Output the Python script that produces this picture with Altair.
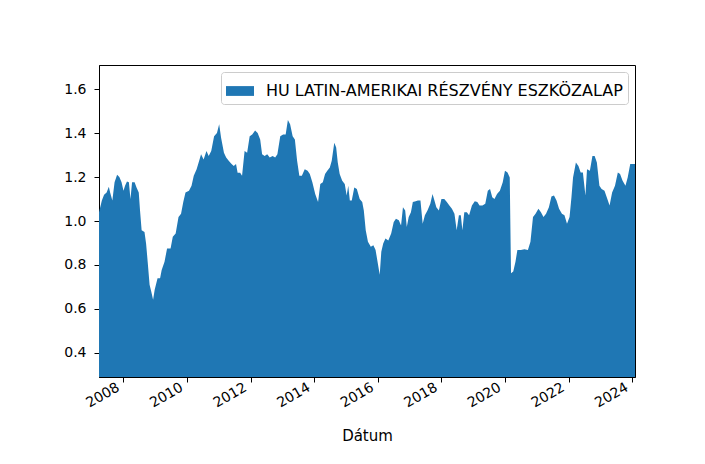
import altair as alt
import numpy as np
import pandas as pd

series_name = "HU LATIN-AMERIKAI RÉSZVÉNY ESZKÖZALAP"

# decimal years
years = [
    2007.23, 2007.32, 2007.39, 2007.47, 2007.54, 2007.58, 2007.65, 2007.72, 2007.80, 2007.87,
    2007.94, 2008.00, 2008.05, 2008.11, 2008.17, 2008.22, 2008.27, 2008.35, 2008.41, 2008.48,
    2008.52, 2008.57, 2008.66, 2008.71, 2008.76, 2008.82, 2008.87, 2008.93, 2008.98, 2009.07,
    2009.15, 2009.20, 2009.29, 2009.37, 2009.48, 2009.55, 2009.64, 2009.73, 2009.81, 2009.88,
    2009.95, 2010.06, 2010.14, 2010.21, 2010.30, 2010.38, 2010.44, 2010.52, 2010.61, 2010.68,
    2010.76, 2010.85, 2010.94, 2011.01, 2011.07, 2011.16, 2011.23, 2011.31, 2011.40, 2011.47,
    2011.54, 2011.59, 2011.67, 2011.73, 2011.81, 2011.89, 2011.97, 2012.05, 2012.14, 2012.22,
    2012.30, 2012.36, 2012.44, 2012.52, 2012.60, 2012.69, 2012.77, 2012.84, 2012.93, 2013.02,
    2013.10, 2013.17, 2013.24, 2013.32, 2013.39, 2013.46, 2013.53, 2013.61, 2013.70, 2013.79,
    2013.86, 2013.94, 2014.03, 2014.12, 2014.19, 2014.27, 2014.34, 2014.41, 2014.49, 2014.55,
    2014.63, 2014.69, 2014.74, 2014.80, 2014.88, 2014.96, 2015.02, 2015.07, 2015.12, 2015.18,
    2015.26, 2015.34, 2015.43, 2015.51, 2015.56, 2015.62, 2015.69, 2015.78, 2015.86, 2015.93,
    2016.00, 2016.06, 2016.11, 2016.17, 2016.24, 2016.33, 2016.42, 2016.50, 2016.57, 2016.66,
    2016.73, 2016.79, 2016.86, 2016.91, 2016.97, 2017.04, 2017.10, 2017.19, 2017.26, 2017.34,
    2017.41, 2017.48, 2017.56, 2017.65, 2017.72, 2017.78, 2017.84, 2017.92, 2018.00, 2018.09,
    2018.17, 2018.25, 2018.33, 2018.41, 2018.48, 2018.55, 2018.61, 2018.66, 2018.72, 2018.80,
    2018.87, 2018.96, 2019.05, 2019.13, 2019.20, 2019.29, 2019.38, 2019.46, 2019.53, 2019.60,
    2019.67, 2019.75, 2019.84, 2019.93, 2020.00, 2020.08, 2020.15, 2020.19, 2020.26, 2020.33,
    2020.39, 2020.50, 2020.61, 2020.72, 2020.80, 2020.88, 2020.96, 2021.05, 2021.13, 2021.21,
    2021.29, 2021.38, 2021.46, 2021.54, 2021.62, 2021.70, 2021.79, 2021.87, 2021.95, 2022.03,
    2022.09, 2022.14, 2022.23, 2022.31, 2022.38, 2022.45, 2022.53, 2022.58, 2022.67, 2022.75,
    2022.82, 2022.89, 2022.97, 2023.04, 2023.13, 2023.22, 2023.29, 2023.37, 2023.46, 2023.55,
    2023.62, 2023.70, 2023.79, 2023.86, 2023.94, 2024.03, 2024.09,
]

values = [
    1.04, 1.093, 1.12, 1.13, 1.156, 1.13, 1.093, 1.176, 1.21, 1.20,
    1.176, 1.138, 1.16, 1.18, 1.176, 1.10, 1.176, 1.176, 1.153, 1.13,
    1.048, 0.958, 0.95, 0.898, 0.815, 0.71, 0.68, 0.642, 0.687, 0.74,
    0.74, 0.777, 0.815, 0.875, 0.875, 0.928, 0.943, 1.018, 1.033, 1.086,
    1.13, 1.138, 1.16, 1.206, 1.236, 1.274, 1.304, 1.28, 1.319, 1.296,
    1.319, 1.386, 1.40, 1.44, 1.379, 1.311, 1.289, 1.274, 1.259, 1.25,
    1.259, 1.22, 1.22, 1.206, 1.319, 1.311, 1.386, 1.394, 1.412, 1.40,
    1.371, 1.304, 1.296, 1.304, 1.289, 1.296, 1.289, 1.304, 1.386, 1.394,
    1.394, 1.46, 1.44, 1.386, 1.371, 1.274, 1.206, 1.206, 1.236, 1.229,
    1.214, 1.176, 1.123, 1.086, 1.168, 1.176, 1.214, 1.229, 1.244, 1.274,
    1.356, 1.334, 1.266, 1.214, 1.183, 1.168, 1.116, 1.161, 1.093, 1.093,
    1.153, 1.146, 1.10, 1.086, 1.048, 0.958, 0.905, 0.883, 0.89, 0.868,
    0.808, 0.755, 0.86, 0.898, 0.92, 0.911, 0.943, 0.995, 1.01, 1.003,
    0.98, 1.063, 1.048, 0.973, 1.018, 1.04, 1.086, 1.09, 1.093, 1.093,
    0.988, 1.026, 1.048, 1.078, 1.123, 1.093, 1.063, 1.048, 1.10, 1.10,
    1.086, 1.071, 1.056, 1.033, 0.958, 1.026, 1.026, 0.958, 1.04, 1.04,
    1.026, 1.071, 1.09, 1.086, 1.071, 1.071, 1.078, 1.138, 1.146, 1.108,
    1.10, 1.123, 1.138, 1.176, 1.229, 1.221, 1.198, 0.762, 0.77, 0.815,
    0.868, 0.868, 0.871, 0.868, 0.905, 1.018, 1.033, 1.056, 1.04, 1.018,
    1.033, 1.063, 1.111, 1.116, 1.093, 1.056, 1.033, 1.026, 0.988, 1.018,
    1.108, 1.198, 1.266, 1.25, 1.221, 1.221, 1.116, 1.236, 1.229, 1.296,
    1.296, 1.266, 1.161, 1.146, 1.138, 1.10, 1.071, 1.13, 1.161, 1.221,
    1.214, 1.183, 1.161, 1.198, 1.259, 1.259, 1.259,
]

y_ticks = [0.4, 0.6, 0.8, 1.0, 1.2, 1.4, 1.6]
y_domain = [0.29, 1.71]
x_tick_years = [2008, 2010, 2012, 2014, 2016, 2018, 2020, 2022, 2024]


def to_date(y):
    yr = int(np.floor(y))
    start = pd.Timestamp(year=yr, month=1, day=1)
    end = pd.Timestamp(year=yr + 1, month=1, day=1)
    return (start + (end - start) * (y - yr)).strftime("%Y-%m-%dT%H:%M:%S")


df = pd.DataFrame({
    "Dátum": [to_date(y) for y in years],
    "value": values,
    "series": series_name,
})

FONT = "DejaVu Sans"

chart = alt.Chart(df).mark_area(clip=True, opacity=1, interpolate="linear").encode(
    x=alt.X(
        "Dátum:T",
        scale=alt.Scale(nice=False),
        axis=alt.Axis(
            values=[alt.DateTime(year=y, month=1, date=1) for y in x_tick_years],
            format="%Y",
            labelAngle=-30,
            labelAlign="right",
            labelBaseline="top",
            labelOffset=-9,
            labelPadding=-2,
            title="Dátum",
            titlePadding=19,
        ),
    ),
    y=alt.Y(
        "value:Q",
        stack=None,
        scale=alt.Scale(domain=y_domain, nice=False, zero=False),
        axis=alt.Axis(values=y_ticks, format=".1f", title=None, labelPadding=8),
    ),
    color=alt.Color(
        "series:N",
        scale=alt.Scale(range=["#1f77b4"]),
        legend=alt.Legend(
            title=None,
            orient="top-right",
            offset=7,
            padding=5,
            strokeColor="#cccccc",
            fillColor="white",
            cornerRadius=3,
            symbolType="M-1,-0.35L1,-0.35L1,0.35L-1,0.35Z",
            symbolSize=784,
            symbolStrokeWidth=0,
            symbolOpacity=1,
            labelFontSize=16,
            labelFont=FONT,
            labelColor="black",
            labelLimit=600,
            labelOffset=12,
        ),
    ),
).properties(
    width=536,
    height=312,
    padding={"left": 91, "top": 57, "right": 62, "bottom": 90},
    autosize=alt.AutoSizeParams(type="none"),
    background="white",
).configure_view(
    stroke="black", strokeWidth=1
).configure_axis(
    grid=False,
    labelFont=FONT,
    labelFontSize=14,
    labelColor="black",
    tickColor="black",
    tickSize=5,
    tickWidth=1,
    domainColor="black",
    domainWidth=1,
    titleFont=FONT,
    titleFontSize=15,
    titleFontWeight="normal",
    titleColor="black",
)

chart.save("out.html", embed_options={"renderer": "svg", "actions": False})
